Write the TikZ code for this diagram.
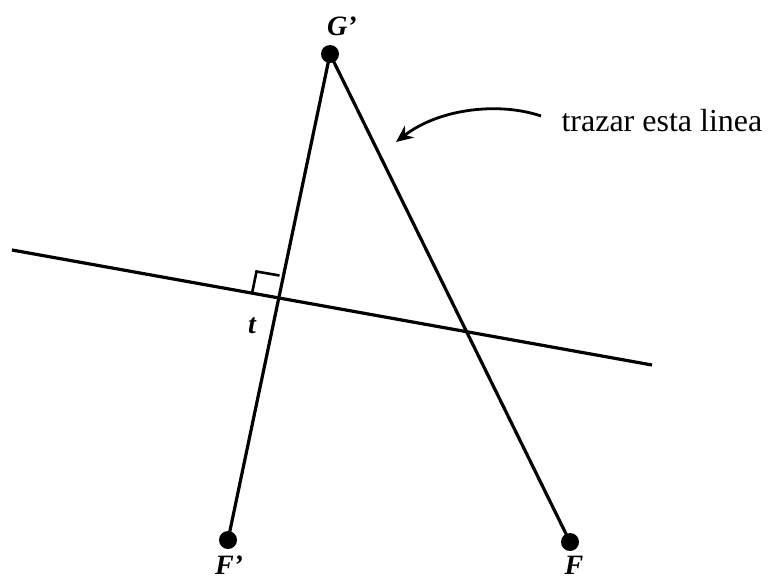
\documentclass[tikz,border=0pt]{standalone}
\usepackage{fontspec}
\setmainfont{Liberation Serif}
\usetikzlibrary{arrows.meta,calc}
\begin{document}
\begin{tikzpicture}[x=1pt,y=-1pt,
  seg/.style={line width=3.2pt},
  dotp/.style={circle,fill=black,inner sep=0pt,minimum size=18pt},
  lab/.style={font=\fontsize{28}{30}\selectfont\bfseries\itshape,inner sep=0pt},
  note/.style={font=\fontsize{32}{36}\selectfont,anchor=west}]
\useasboundingbox (0,0) rectangle (774,584);
\node[dotp] (G) at (330,54) {};
\node[dotp] (Fp) at (228,540) {};
\node[dotp] (F) at (570,542) {};
\coordinate (L1) at (12,250);
\coordinate (L2) at (652,365);
\draw[seg] (L1) -- (L2);
\draw[seg] (Fp.center) -- (G.center) -- (F.center);
\coordinate (X) at (275,297.5);
\coordinate (S1) at (252,293.5);
\coordinate (S3) at (279.5,275.5);
\coordinate (S2) at ($(S1)+(S3)-(X)$);
\draw[line width=2.6pt] (S1) -- (S2) -- (S3);
\node[lab] (lG) at (342,26) {G'};
\node[lab] (lFp) at (229,565) {F'};
\node[lab] (lF) at (574,565) {F};
\node[lab] (lt) at (252,326) {t};
\node[note] (txt) at (558,121) {trazar esta linea};
\coordinate (a1) at (541,116);
\coordinate (a0) at (396,142);
\draw[line width=2.8pt,-{Stealth[length=17pt,width=15pt]}] (a1) .. controls (500,102) and (440,108) .. (a0);
\end{tikzpicture}
\end{document}
